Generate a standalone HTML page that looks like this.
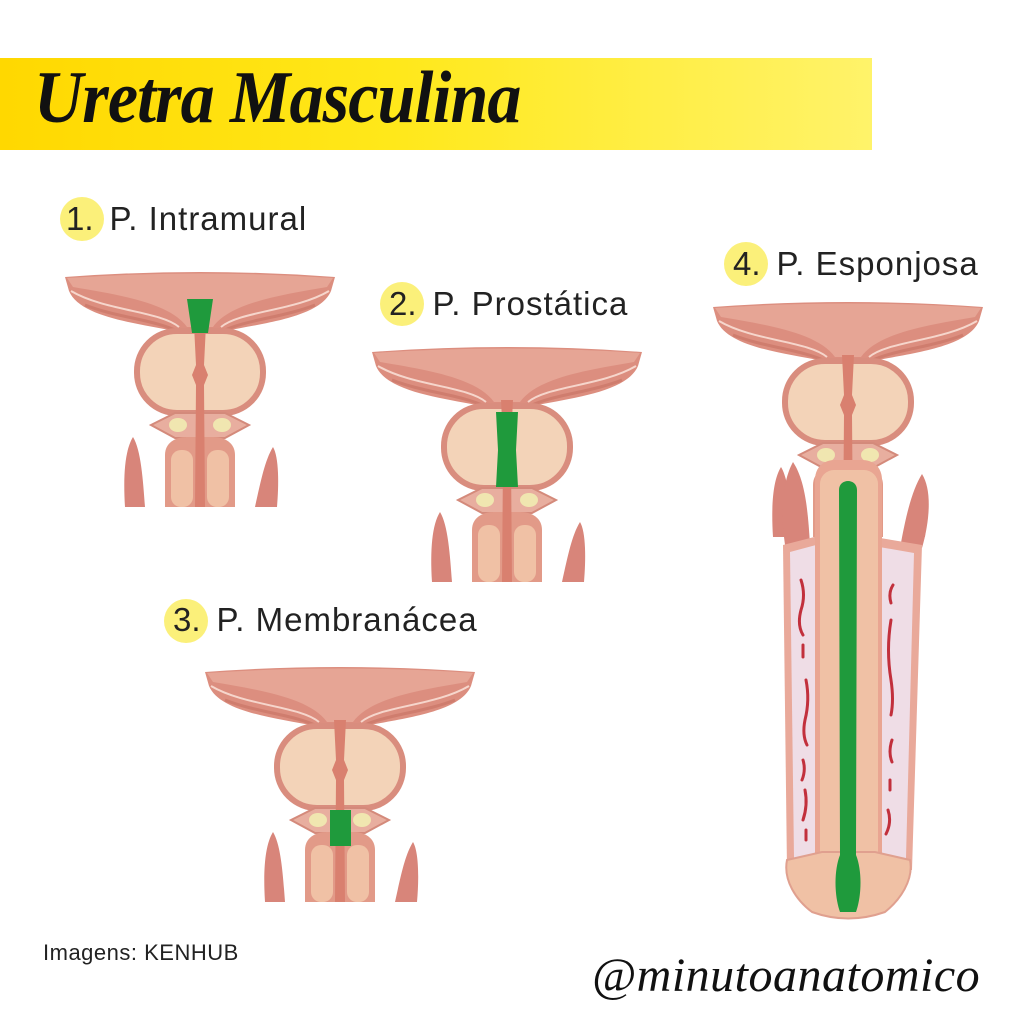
<!DOCTYPE html>
<html><head><meta charset="utf-8"><style>
html,body{margin:0;padding:0;background:#fff;}
#c{position:relative;width:1024px;height:1024px;overflow:hidden;background:#fff;font-family:"Liberation Sans","DejaVu Sans",sans-serif;z-index:0;}
.banner{position:absolute;left:0;top:58px;width:872px;height:92px;background:linear-gradient(90deg,#ffd800 0%,#ffe81a 45%,#fff36a 100%);}
.title{position:absolute;left:34px;top:56px;font-family:"Liberation Serif",serif;font-style:italic;font-weight:bold;font-size:74px;color:#111;letter-spacing:-1px;transform:scaleX(0.92);transform-origin:left;}
.lab{position:absolute;font-size:33px;color:#222;letter-spacing:1px;white-space:nowrap;z-index:2;}
.num{display:inline-block;position:relative;margin-right:16px;letter-spacing:0;}
.circ{position:absolute;width:44px;height:44px;border-radius:50%;background:#fbf07a;z-index:1;}
.credit{position:absolute;left:43px;top:940px;font-size:22px;color:#222;letter-spacing:0.5px;}
.handle{position:absolute;left:592px;top:948px;font-family:"Liberation Serif",serif;font-style:italic;font-size:48px;color:#111;letter-spacing:0.5px;}
svg{position:absolute;left:0;top:0;}
</style></head><body><div id="c">
<div class="banner"></div>
<div class="title">Uretra Masculina</div>

<svg width="1024" height="1024" viewBox="0 0 1024 1024">
<defs>
<g id="top">
 <path d="M0,12 Q135,2 270,12 L266,26 C255,52 200,58 160,66 L150,74 L120,74 L110,66 C70,58 15,52 4,26 Z" fill="#dc8e7f"/>
 <path d="M2,13 Q135,4 268,13 L262,22 C215,30 165,38 148,62 L122,62 C105,38 55,30 8,22 Z" fill="#e6a595"/>
 <path d="M6,26 C40,46 95,46 114,62 M264,26 C230,46 175,46 156,62" stroke="#f6d6cc" stroke-width="2" fill="none"/>
 <path d="M20,40 C50,52 90,55 112,66 M250,40 C220,52 180,55 158,66" stroke="#cf7d6e" stroke-width="3" fill="none"/>
 <rect x="72" y="66" width="126" height="82" rx="40" fill="#f3d3b8" stroke="#d98d7e" stroke-width="6"/>
 <polygon points="86,160 110,148 160,148 184,160 160,173 110,173" fill="#e8ae9f" stroke="#d48a7b" stroke-width="2"/>
 <ellipse cx="113" cy="160" rx="9" ry="7" fill="#f0e6b0"/>
 <ellipse cx="157" cy="160" rx="9" ry="7" fill="#f0e6b0"/>
 <path d="M60,242 C58,210 60,185 68,172 C76,185 78,215 80,242 Z" fill="#d8857a"/>
 <path d="M190,242 C196,215 200,195 208,182 C214,192 214,220 212,242 Z" fill="#d8857a"/>
 <path d="M100,242 L100,190 C100,178 110,172 122,172 L148,172 C160,172 170,178 170,190 L170,242 Z" fill="#e29a88"/>
 <rect x="106" y="185" width="22" height="57" rx="10" fill="#f0c1a5"/>
 <rect x="142" y="185" width="22" height="57" rx="10" fill="#f0c1a5"/>
 <path d="M129,60 L141,60 L139,100 L143,110 L139,120 L140,242 L130,242 L131,120 L127,110 L131,100 Z" fill="#d9806f"/>
</g>
</defs>

<g transform="translate(65,265)">
 <use href="#top"/>
 <path d="M122,34 L148,34 L143,68 L127,68 Z" fill="#1f9a3c"/>
</g>
<g transform="translate(372,340)">
 <use href="#top"/>
 <path d="M124,72 L146,72 L144,110 L146,147 L124,147 L126,110 Z" fill="#1f9a3c"/>
</g>
<g transform="translate(205,660)">
 <use href="#top"/>
 <rect x="125" y="150" width="21" height="36" fill="#1f9a3c"/>
</g>
<g transform="translate(713,295)">
 <use href="#top"/>
</g>
<path d="M785,545 C780,510 783,480 793,462 C805,480 808,510 810,545 Z" fill="#d8857a"/>
<path d="M900,548 C906,515 912,490 922,474 C932,490 930,520 922,548 Z" fill="#d8857a"/>
<path d="M783,545 L822,535 L822,870 L787,870 Z" fill="#e9a99a"/>
<path d="M790,552 L816,545 L816,858 L794,858 Z" fill="#efdde6"/>
<path d="M862,535 L922,545 L912,870 L865,870 Z" fill="#e9a99a"/>
<path d="M868,545 L914,553 L906,858 L870,858 Z" fill="#efdde6"/>
<g stroke="#c2303c" stroke-width="3" fill="none" stroke-linecap="round">
 <path d="M801,580 q5,15 0,30 q-4,15 2,25"/>
 <path d="M803,645 l0,12"/>
 <path d="M806,680 q4,20 -1,40 q-3,15 2,25"/>
 <path d="M803,760 q3,10 -1,20"/>
 <path d="M805,790 q3,15 -2,30"/>
 <path d="M806,830 l0,10"/>
 <path d="M893,585 q-5,8 -2,18"/>
 <path d="M891,620 q-5,30 0,60 q3,20 0,35"/>
 <path d="M892,740 q-4,12 0,22"/>
 <path d="M890,780 l0,10"/>
 <path d="M888,810 q4,12 -2,24"/>
</g>
<path d="M815,480 C815,466 825,460 835,460 L862,460 C872,460 882,466 882,480 L882,860 L815,860 Z" fill="#e9a592"/>
<rect x="820" y="470" width="58" height="400" rx="14" fill="#f0c1a5"/>
<path d="M787,860 L822,852 L875,852 L910,860 C914,880 900,900 885,912 Q848,925 812,912 C796,900 783,880 787,860 Z" fill="#f0c1a5" stroke="#e0a08f" stroke-width="2"/>
<path d="M839,490 C839,478 857,478 857,490 L856,855 C862,870 862,895 856,912 L840,912 C834,895 834,870 840,855 Z" fill="#1f9a3c"/>
</svg>

<div class="circ" style="left:60px;top:197px;"></div>
<div class="circ" style="left:380px;top:282px;"></div>
<div class="circ" style="left:164px;top:599px;"></div>
<div class="circ" style="left:724px;top:242px;"></div>
<div class="lab" style="left:66px;top:200px;"><span class="num">1.</span>P. Intramural</div>
<div class="lab" style="left:389px;top:285px;"><span class="num">2.</span>P. Prostática</div>
<div class="lab" style="left:173px;top:601px;"><span class="num">3.</span>P. Membranácea</div>
<div class="lab" style="left:733px;top:245px;"><span class="num">4.</span>P. Esponjosa</div>
<div class="credit">Imagens: KENHUB</div>
<div class="handle">@minutoanatomico</div>
</div></body></html>
